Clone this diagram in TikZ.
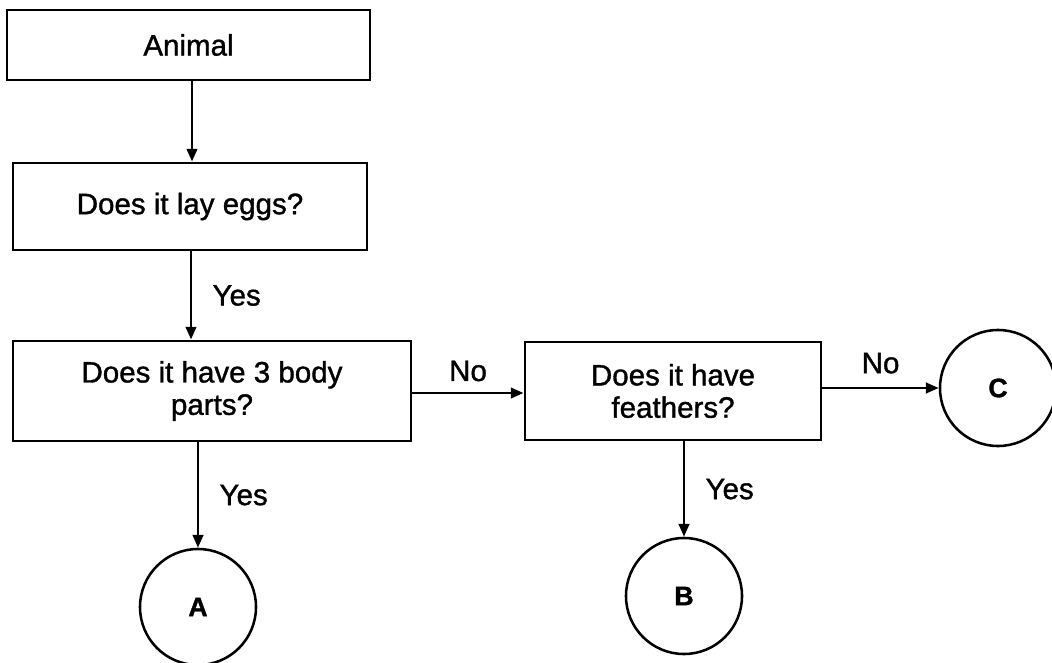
\documentclass[tikz,border=0pt]{standalone}
\usepackage{fontspec}
\setmainfont{Liberation Sans}[FakeBold=1.2]
\newfontfamily\boldish{Liberation Sans}[FakeBold=1.2]
\usepackage{tikz}
\usetikzlibrary{arrows.meta, positioning}

\begin{document}
\begin{tikzpicture}[
    x=0.025cm, y=-0.025cm,
    box/.style={draw, line width=2pt, inner sep=0pt, align=center, font=\fontsize{21}{23}\selectfont\boldish},
    endpt/.style={draw, circle, line width=1.8pt, minimum size=2.9cm, inner sep=0pt, font=\fontsize{19}{21}\selectfont\bfseries},
    arrow/.style={-{Triangle[length=0.32cm, width=0.26cm]}, line width=2pt},
    label/.style={font=\fontsize{21}{23}\selectfont\boldish}
]
\useasboundingbox (0,0) rectangle (1052,663);

% --- Question boxes ---
\node[box, minimum width=9.075cm, minimum height=1.75cm] (animal) at (188.5, 45) {Animal};
\node[box, minimum width=8.85cm, minimum height=2.175cm] (eggs) at (190, 206.5) {Does it lay eggs?};
\node[box, minimum width=9.95cm, minimum height=2.5cm] (body) at (212, 391) {Does it have 3 body\\parts?};
\node[box, minimum width=7.4cm, minimum height=2.45cm] (feath) at (673, 391) {Does it have\\feathers?};

% --- Outcomes ---
\node[endpt] (A) at (198, 607) {A};
\node[endpt] (B) at (684, 596) {B};
\node[endpt] (C) at (998, 388) {C};

% --- Connectors ---
\draw[arrow] (animal.south -| 192, 0) -- (eggs.north -| 192, 0);
\draw[arrow] (eggs.south -| 191, 0) -- node[right, label, xshift=11pt] {Yes} (body.north -| 191, 0);
\draw[arrow] (body.south -| A) -- node[right, label, xshift=11pt] {Yes} (A.north);
\draw[arrow] (feath.south -| B) -- node[right, label, xshift=11pt] {Yes} (B.north);
\draw[arrow] (body.east |- 0, 393) -- node[above, label, yshift=4pt] {No} (feath.west |- 0, 393);
\draw[arrow] (feath.east |- C) -- node[above, label, yshift=6pt] {No} (C.west);

\end{tikzpicture}
\end{document}
